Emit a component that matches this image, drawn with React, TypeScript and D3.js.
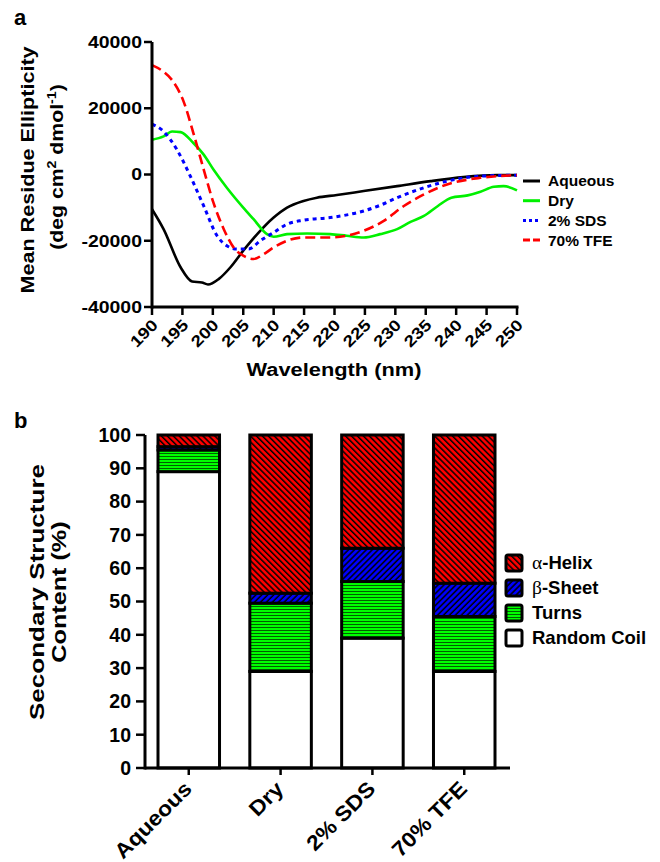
import React from 'react';
import * as d3 from 'd3';

// ---- panel a: CD spectra (wavelength nm, mean residue ellipticity) ----
const aqueous: [number, number][] = [
  [190, -10500], [191.9, -16500], [194.7, -28000], [196.6, -32300], [198.2, -32600],
  [199.2, -33200], [201, -31500], [202.9, -28000], [205, -23000], [207.3, -18000],
  [210, -13000], [212.2, -10000], [214.9, -8000], [217.1, -7000], [220.4, -6200],
  [224.8, -5000], [230.3, -3500], [235.8, -2000], [241.2, -800], [246.7, -200], [250, -200],
];
const dry: [number, number][] = [
  [190, 10500], [191.9, 11500], [193.3, 13000], [194.7, 12800], [196.8, 9500],
  [198.5, 6000], [200.1, 1500], [202.3, -4000], [205, -10000], [206.7, -13500],
  [208.9, -18000], [210, -18800], [212.2, -18000], [215.5, -17800], [219.3, -18000],
  [222, -18500], [224.8, -19000], [227.5, -18000], [230.3, -16500], [232.5, -14300],
  [234.7, -12500], [237, -9500], [239.2, -7000], [241.9, -6300], [244, -5200],
  [246.2, -3700], [247.8, -3500], [250, -4800],
];
const sds: [number, number][] = [
  [190, 15200], [191.9, 13000], [194.1, 7500], [196.3, -500], [198.5, -9500],
  [200.7, -18500], [202.3, -21500], [204, -22500], [205.9, -22500], [207.8, -20000],
  [210, -17500], [212.2, -15000], [214.9, -13800], [219.3, -13000], [224.8, -11000],
  [227.5, -9300], [230.3, -7000], [234.7, -4000], [238.5, -2000], [244, -500], [250, -200],
];
const tfe: [number, number][] = [
  [190, 33000], [191.9, 31000], [193.3, 28500], [195.2, 22000], [196.8, 12500],
  [198.5, 1500], [200.1, -8500], [201.8, -16500], [203.4, -22000], [205, -24500],
  [206.7, -25500], [208.4, -24000], [210, -22000], [212.2, -20000], [214.9, -19000],
  [219.3, -19000], [222, -18500], [224.8, -17000], [228.1, -14000], [231.4, -9500],
  [234.7, -6000], [238.5, -3000], [244, -1000], [250, -200],
];
const nmTicks = [190, 195, 200, 205, 210, 215, 220, 225, 230, 235, 240, 245, 250];
const mreTicks = [-40000, -20000, 0, 20000, 40000];

const spectra = [
  { name: 'Aqueous', data: aqueous, color: '#000000', dash: null, legendDash: null, width: 2.6 },
  { name: 'Dry', data: dry, color: '#00f000', dash: null, legendDash: null, width: 2.6 },
  { name: '2% SDS', data: sds, color: '#0000ff', dash: '4,4', legendDash: '3,3', width: 3 },
  { name: '70% TFE', data: tfe, color: '#ff0000', dash: '10,5', legendDash: '7,3', width: 2.6 },
];

// ---- panel b: secondary structure content (%) ----
const conditions = ['Aqueous', 'Dry', '2% SDS', '70% TFE'];
const randomCoil = [89, 29, 39, 29];
const turns = [6.5, 20.5, 17, 16.5];
const betaSheet = [1, 3, 10, 10];
const alphaHelix = [3.5, 47.5, 34, 44.5];
const pctTicks = [0, 10, 20, 30, 40, 50, 60, 70, 80, 90, 100];

const FONT = '"Liberation Sans", Arial, sans-serif';

export default function App() {
  // panel a scales
  const x = d3.scaleLinear().domain([190, 250]).range([152, 517]);
  const y = d3.scaleLinear().domain([-40000, 40000]).range([307, 42]);
  const line = d3
    .line<[number, number]>()
    .x(d => x(d[0]))
    .y(d => y(d[1]))
    .curve(d3.curveMonotoneX);

  // panel b scales
  const xb = d3.scaleBand<string>().domain(conditions).range([158, 495]).paddingInner(0.33);
  const yb = d3.scaleLinear().domain([0, 100]).range([768, 435]);
  const table = conditions.map((c, i) => ({
    cond: c,
    coil: randomCoil[i],
    turns: turns[i],
    sheet: betaSheet[i],
    helix: alphaHelix[i],
  }));
  const keys = ['coil', 'turns', 'sheet', 'helix'];
  const stacked = d3.stack<any>().keys(keys)(table);
  const fills: Record<string, string> = {
    coil: '#ffffff',
    turns: 'url(#pTurns)',
    sheet: 'url(#pSheet)',
    helix: 'url(#pHelix)',
  };

  const legendB = [
    { key: 'helix', greek: 'α', label: '-Helix' },
    { key: 'sheet', greek: 'β', label: '-Sheet' },
    { key: 'turns', greek: '', label: 'Turns' },
    { key: 'coil', greek: '', label: 'Random Coil' },
  ];

  const sx = 1.18; // lettering is wider than plain Arial

  return (
    <svg
      width={660}
      height={862}
      style={{ position: 'absolute', left: 0, top: 0, background: '#fff' }}
      fontFamily={FONT}
      fontWeight="bold"
    >
      <defs>
        <pattern id="pHelix" patternUnits="userSpaceOnUse" width={4.2} height={4.2} patternTransform="rotate(45)">
          <rect width={4.2} height={4.2} fill="#ff0000" />
          <line x1={0} x2={4.2} y1={1} y2={1} stroke="#000" strokeWidth={1.5} />
        </pattern>
        <pattern id="pSheet" patternUnits="userSpaceOnUse" width={4.2} height={4.2} patternTransform="rotate(-45)">
          <rect width={4.2} height={4.2} fill="#0000ff" />
          <line x1={0} x2={4.2} y1={1} y2={1} stroke="#000" strokeWidth={1.5} />
        </pattern>
        <pattern id="pTurns" patternUnits="userSpaceOnUse" width={6} height={3}>
          <rect width={6} height={3} fill="#00ff00" />
          <line x1={0} x2={6} y1={0.5} y2={0.5} stroke="#006000" strokeWidth={1} />
        </pattern>
      </defs>

      {/* ================= panel a ================= */}
      <text x={14} y={25} fontSize={22}>a</text>

      {spectra.map(s => (
        <path
          key={s.name}
          d={line(s.data) || ''}
          fill="none"
          stroke={s.color}
          strokeWidth={s.width}
          strokeDasharray={s.dash || undefined}
        />
      ))}

      {/* axes */}
      <line x1={152} x2={152} y1={y(40000)} y2={y(-40000) + 1.5} stroke="#000" strokeWidth={3} />
      <line x1={x(190)} x2={x(250) + 1.5} y1={307} y2={307} stroke="#000" strokeWidth={3} />
      {mreTicks.map(t => (
        <g key={t}>
          <line x1={144} x2={152} y1={y(t)} y2={y(t)} stroke="#000" strokeWidth={2.5} />
          <text
            transform={`translate(142,${y(t)}) scale(${sx},1)`}
            dy="0.35em"
            textAnchor="end"
            fontSize={16.5}
          >
            {t}
          </text>
        </g>
      ))}
      {nmTicks.map(t => (
        <g key={t}>
          <line x1={x(t)} x2={x(t)} y1={307} y2={315} stroke="#000" strokeWidth={2.5} />
          <text
            transform={`translate(${x(t) + 3},${322}) rotate(-45) scale(${sx},1)`}
            dy="0.35em"
            textAnchor="end"
            fontSize={16}
          >
            {t}
          </text>
        </g>
      ))}
      <text transform={`translate(334,376) scale(${sx},1)`} textAnchor="middle" fontSize={18.5}>
        Wavelength (nm)
      </text>
      <text transform={`translate(34,170) rotate(-90) scale(1.2,1)`} textAnchor="middle" fontSize={18}>
        Mean Residue Ellipticity
      </text>
      <text transform={`translate(63,167) rotate(-90) scale(${sx},1)`} textAnchor="middle" fontSize={18}>
        (deg cm<tspan fontSize={12} dy={-7}>2</tspan>
        <tspan dy={7}> dmol</tspan>
        <tspan fontSize={12} dy={-7}>-1</tspan>
        <tspan dy={7}>)</tspan>
      </text>

      {/* legend a */}
      {spectra.map((s, i) => (
        <g key={s.name} transform={`translate(523,${181 + i * 19.7})`}>
          <line x1={0} x2={17} y1={0} y2={0} stroke={s.color} strokeWidth={3} strokeDasharray={s.legendDash || undefined} />
          <text x={25} dy="0.35em" fontSize={15.5}>{s.name}</text>
        </g>
      ))}

      {/* ================= panel b ================= */}
      <text x={14} y={428} fontSize={22}>b</text>

      {stacked.map(layer =>
        layer.map((d, i) => (
          <rect
            key={layer.key + i}
            x={xb(conditions[i])}
            width={xb.bandwidth()}
            y={yb(d[1])}
            height={yb(d[0]) - yb(d[1])}
            fill={fills[layer.key]}
            stroke="#000"
            strokeWidth={3}
          />
        ))
      )}

      <line x1={145} x2={145} y1={yb(100)} y2={yb(0) + 1.5} stroke="#000" strokeWidth={3} />
      <line x1={145} x2={510} y1={yb(0)} y2={yb(0)} stroke="#000" strokeWidth={3} />
      {pctTicks.map(t => (
        <g key={t}>
          <line x1={136} x2={145} y1={yb(t)} y2={yb(t)} stroke="#000" strokeWidth={2.5} />
          <text x={131} y={yb(t)} dy="0.35em" textAnchor="end" fontSize={19.5}>{t}</text>
        </g>
      ))}
      {conditions.map(c => {
        const cx = (xb(c) || 0) + xb.bandwidth() / 2;
        return (
          <g key={c}>
            <line x1={cx} x2={cx} y1={768} y2={775} stroke="#000" strokeWidth={2.5} />
            <text
              transform={`translate(${cx - 1},${785}) rotate(-45) scale(1.1,1)`}
              dy="0.35em"
              textAnchor="end"
              fontSize={21}
            >
              {c}
            </text>
          </g>
        );
      })}
      <text transform="translate(44,592) rotate(-90) scale(1.24,1)" textAnchor="middle" fontSize={21}>
        Secondary Structure
      </text>
      <text transform="translate(66,592) rotate(-90) scale(1.2,1)" textAnchor="middle" fontSize={21}>
        Content (%)
      </text>

      {/* legend b */}
      {legendB.map((l, i) => (
        <g key={l.key} transform={`translate(506,${555 + i * 25})`}>
          <rect x={0} y={0} width={16} height={16} rx={2} fill={fills[l.key]} stroke="#000" strokeWidth={3} />
          <text x={26} y={8} dy="0.35em" fontSize={18.5}>
            {l.greek ? (
              <tspan fontFamily='"Liberation Serif", "DejaVu Serif", serif' fontWeight="normal" fontSize={19.5}>
                {l.greek}
              </tspan>
            ) : null}
            {l.label}
          </text>
        </g>
      ))}
    </svg>
  );
}
